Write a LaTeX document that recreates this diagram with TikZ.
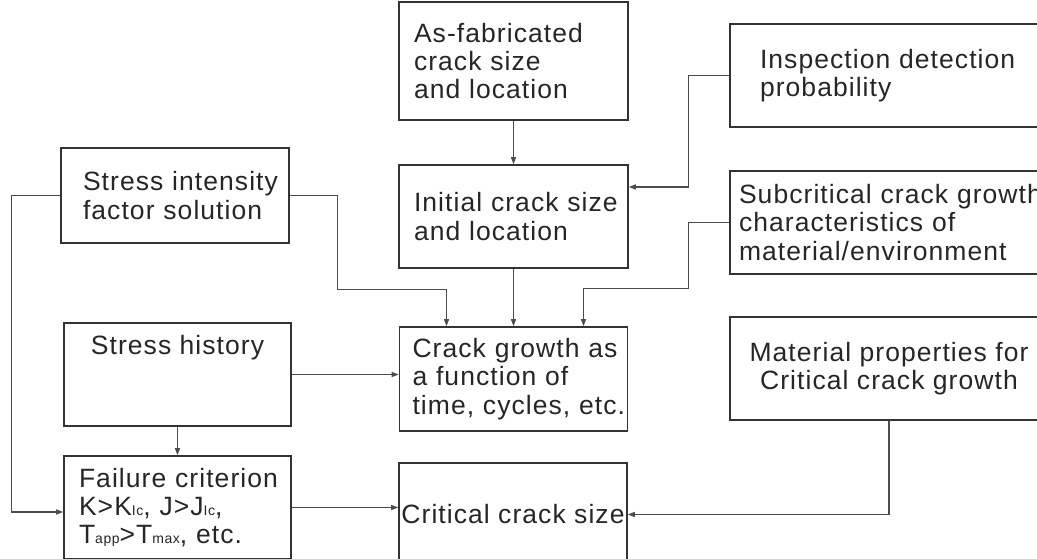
\documentclass[tikz,border=0pt]{standalone}
\usepackage{fontspec}
\setmainfont{Liberation Sans}[LetterSpace=4.0]
\usetikzlibrary{arrows.meta, positioning}

\newcommand{\subtxt}[1]{{\fontsize{14}{14}\selectfont #1}}

\begin{document}
\begin{tikzpicture}[x=1pt, y=-1pt,
    font=\fontsize{26.5}{28.3}\selectfont, text=black!85,
    box/.style={draw=black!80, line width=1.6pt, inner sep=0pt, minimum height=103pt},
    arr/.style={draw=black!70, line width=1.3pt, -{Triangle[length=7pt, width=5pt]}}]
\useasboundingbox (0,0) rectangle (1037,559);
\clip (0,0) rectangle (1037,559);

% top row
\node[box, align=left, text width=199pt, inner xsep=15pt, minimum height=118pt] (asfab) at (513.5, 61) {As-fabricated\\crack size\\and location};
\node[box, align=left, text width=280pt, inner xsep=30pt] (insp) at (900, 75.5) {Inspection detection\\probability};
% second row
\node[box, align=left, text width=184pt, inner xsep=22pt, minimum height=95pt] (sif) at (175, 195.5) {\mbox{Stress intensity}\\factor solution};
\node[box, align=left, text width=199pt, inner xsep=15pt] (init) at (513.5, 216.5) {\mbox{Initial crack size}\\and location};
\node[box, align=left, text width=340pt, inner xsep=9pt] (subc) at (909, 222.5) {\mbox{Subcritical crack growth}\\characteristics of\\material/environment};
% third row
\node[box, minimum width=227pt, text height=31pt, text depth=72pt] (hist) at (177.5, 374.5) {Stress history};
\node[box, align=left, text width=202pt, inner xsep=13pt, minimum height=104pt] (growth) at (513.5, 379) {\mbox{Crack growth as}\\a function of\\\mbox{time, cycles, etc.}};
\node[box, align=center, minimum width=318pt] (mat) at (889, 368.5) {Material properties for\\Critical crack growth};
% bottom row
\node[box, align=left, text width=197pt, inner xsep=15pt] (fail) at (177.5, 507.5) {\mbox{Failure criterion}\\K>K\subtxt{Ic}, J>J\subtxt{Ic},\\T\subtxt{app}>T\subtxt{max}, etc.};
\node[box, align=center, minimum width=228pt] (crit) at (513, 514.5) {Critical crack size};

% connectors
\draw[arr] (asfab) -- (init);
\draw[arr] (insp.west) -- ++(-41,0) |- ([yshift=29.5pt]init.east);
\draw[arr] (sif.west) -- ++(-49,0) |- ([yshift=-4.5pt]fail.west);
\draw[arr] (sif.east) -- ++(48,0) -- ++(0,94) -| ([xshift=-67pt]growth.north);
\draw[arr] (init) -- (growth);
\draw[arr] (subc.west) -- ++(-41,0) -- ++(0,66) -| ([xshift=70pt]growth.north);
\draw[arr] (hist.east) -- (hist.east -| growth.west);
\draw[arr] (hist) -- (fail);
\draw[arr] (fail.east) -- (fail.east -| crit.west);
\draw[arr] (mat.south) |- (crit.east);
\end{tikzpicture}
\end{document}
